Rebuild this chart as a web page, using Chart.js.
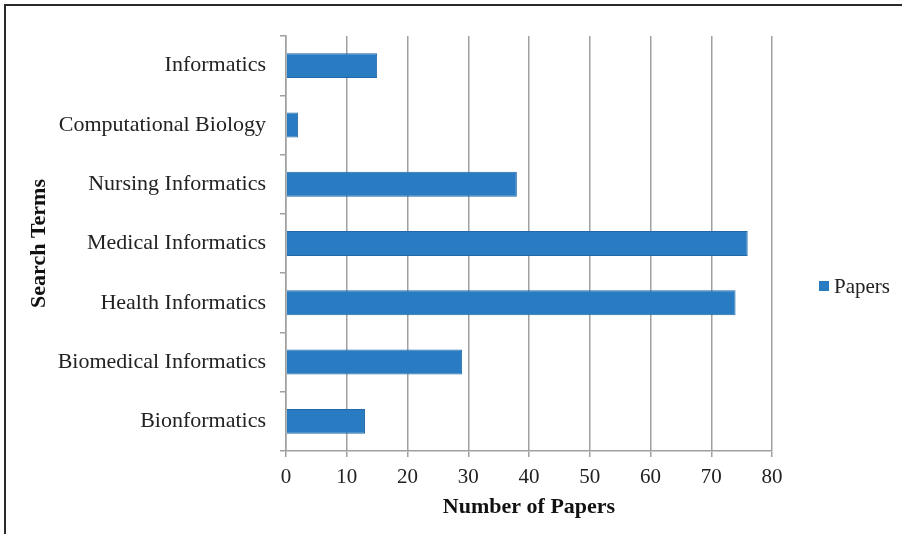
<!DOCTYPE html>
<html>
<head>
<meta charset="utf-8">
<script src="https://cdn.jsdelivr.net/npm/chart.js@4/dist/chart.umd.min.js"></script>
<style>
    html, body { margin: 0; padding: 0; background: #fff; }
    #wrap { position: relative; width: 902px; height: 534px; overflow: hidden; }
    #frame { position: absolute; left: 4px; top: 4px; right: -10px; bottom: -10px;
             border-top: 2px solid #2a2a2a; border-left: 2px solid #2a2a2a; }
    #legend { position: absolute; left: 819px; top: 273px; font: 21px "Liberation Serif", serif;
              color: #222; display: flex; align-items: center; line-height: 26px; }
    #legend span.box { display: inline-block; width: 10px; height: 10px; margin-right: 5px; }
</style>
</head>
<body>
<div id="wrap">
    <canvas id="chart" width="902" height="534"></canvas>
    <div id="frame"></div>
    <div id="legend"></div>
</div>
<script>
// Search terms, top to bottom as shown
const searchTerms = [
    'Informatics',
    'Computational Biology',
    'Nursing Informatics',
    'Medical Informatics',
    'Health Informatics',
    'Biomedical Informatics',
    'Bionformatics'
];
const paperCounts = [15, 2, 38, 76, 74, 29, 13];
const seriesName = 'Papers';
const xTicks = { min: 0, max: 80, step: 10 };

const barColor = '#2a7cc2';
const gridColor = '#a0a0a0';
const fontFamily = '"Liberation Serif", "Times New Roman", serif';

const ctx = document.getElementById('chart').getContext('2d');

const chart = new Chart(ctx, {
    type: 'bar',
    data: {
        labels: searchTerms,
        datasets: [{
            label: seriesName,
            data: paperCounts,
            backgroundColor: barColor,
            borderColor: '#2068a8',
            borderWidth: 1,
            barPercentage: 0.84,
            categoryPercentage: 0.5
        }]
    },
    options: {
        indexAxis: 'y',
        responsive: false,
        animation: false,
        layout: { padding: { left: 26, top: 36, right: 130, bottom: 13 } },
        plugins: {
            legend: { display: false },
            tooltip: { enabled: false }
        },
        scales: {
            x: {
                min: xTicks.min,
                max: xTicks.max,
                afterFit: function(scale) { scale.height = 70; },
                ticks: {
                    stepSize: xTicks.step,
                    color: '#222',
                    padding: 8,
                    font: { family: fontFamily, size: 21 }
                },
                grid: {
                    color: gridColor,
                    lineWidth: 1.5,
                    tickLength: 6
                },
                border: { color: gridColor, width: 1.5 },
                title: {
                    display: true,
                    text: 'Number of Papers',
                    color: '#111',
                    padding: { top: 4, bottom: 0 },
                    font: { family: fontFamily, size: 22, weight: 'bold' }
                }
            },
            y: {
                afterFit: function(scale) { scale.width = 286 - 26; },
                ticks: {
                    color: '#222',
                    padding: 14,
                    font: { family: fontFamily, size: 22 }
                },
                grid: {
                    drawOnChartArea: false,
                    color: gridColor,
                    lineWidth: 1.5,
                    tickLength: 6
                },
                border: { color: gridColor, width: 1.5 },
                title: {
                    display: true,
                    text: 'Search Terms',
                    color: '#111',
                    padding: { top: 0, bottom: 0 },
                    font: { family: fontFamily, size: 22, weight: 'bold' }
                }
            }
        }
    }
});

// Legend built from the dataset
const legendEl = document.getElementById('legend');
chart.data.datasets.forEach(ds => {
    const box = document.createElement('span');
    box.className = 'box';
    box.style.background = ds.backgroundColor;
    legendEl.appendChild(box);
    legendEl.appendChild(document.createTextNode(ds.label));
});
</script>
</body>
</html>
